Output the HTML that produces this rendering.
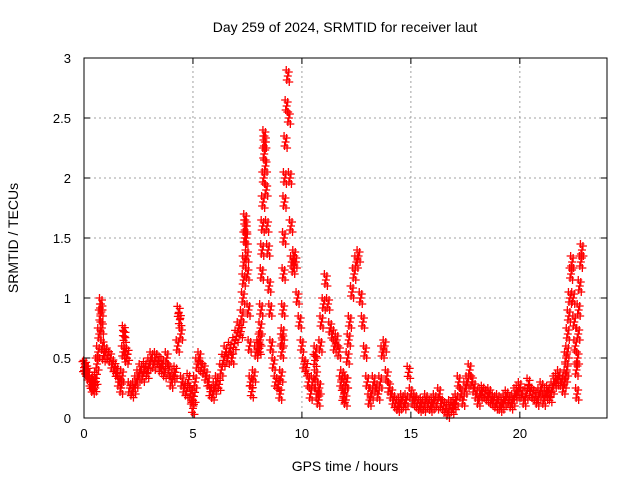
<!DOCTYPE html>
<html><head><meta charset="utf-8"><style>
body{margin:0;background:#fff}
svg{display:block;font-family:"Liberation Sans",sans-serif}
</style></head><body>
<svg id="chart" width="640" height="480">
<text x="345" y="32" text-anchor="middle" font-size="14">Day 259 of 2024, SRMTID for receiver laut</text>
<text x="345" y="471" text-anchor="middle" font-size="14">GPS time / hours</text>
<text transform="translate(18,238) rotate(-90)" text-anchor="middle" font-size="14">SRMTID / TECUs</text>
<g id="grid"></g><g id="axes"></g><g id="marks"></g>
<rect x="84" y="58" width="523" height="360" fill="none" stroke="#000" stroke-width="1"/>
</svg>
<script>
const xTicks=[0,5,10,15,20];
const yTicks=[0,0.5,1,1.5,2,2.5,3];
const yTickLabels=["0","0.5","1","1.5","2","2.5","3"];
const times=[0,0.05,0.1,0.15,0.2,0.3,0.35,0.4,0.45,0.5,0.55,0.6,0.65,0.7,0.75,0.78,0.8,0.82,0.85,0.9,1.0,1.1,1.2,1.3,1.4,1.5,1.6,1.7,1.75,1.8,1.83,1.86,1.9,1.95,2.0,2.1,2.2,2.3,2.4,2.5,2.6,2.7,2.8,2.9,3.0,3.1,3.2,3.3,3.4,3.5,3.6,3.7,3.8,3.9,4.0,4.1,4.2,4.3,4.35,4.4,4.45,4.5,4.6,4.7,4.8,4.9,4.95,5.0,5.05,5.1,5.2,5.3,5.4,5.5,5.6,5.7,5.8,5.9,6.0,6.1,6.2,6.3,6.4,6.5,6.6,6.7,6.8,6.9,7.0,7.1,7.2,7.25,7.3,7.33,7.35,7.38,7.4,7.42,7.45,7.48,7.5,7.55,7.6,7.65,7.7,7.8,7.9,8.0,8.05,8.08,8.1,8.13,8.16,8.18,8.2,8.22,8.25,8.27,8.28,8.3,8.33,8.36,8.4,8.45,8.5,8.55,8.6,8.7,8.8,8.9,9.0,9.05,9.08,9.1,9.12,9.14,9.16,9.18,9.2,9.22,9.25,9.3,9.35,9.4,9.45,9.5,9.55,9.6,9.65,9.7,9.8,9.9,10.0,10.1,10.2,10.3,10.4,10.5,10.6,10.63,10.65,10.7,10.75,10.8,10.85,10.9,11.0,11.1,11.2,11.3,11.4,11.5,11.6,11.7,11.8,11.85,11.9,11.95,12.0,12.03,12.05,12.1,12.15,12.2,12.3,12.4,12.5,12.6,12.7,12.8,12.9,13.0,13.1,13.2,13.3,13.4,13.5,13.6,13.7,13.8,13.9,14.0,14.1,14.2,14.3,14.4,14.5,14.6,14.7,14.8,14.9,15.0,15.1,15.2,15.3,15.4,15.5,15.6,15.7,15.8,15.9,16.0,16.1,16.2,16.3,16.4,16.5,16.6,16.7,16.8,16.9,17.0,17.1,17.2,17.3,17.4,17.5,17.6,17.7,17.8,17.9,18.0,18.1,18.2,18.3,18.4,18.5,18.6,18.7,18.8,18.9,19.0,19.1,19.2,19.3,19.4,19.5,19.6,19.7,19.8,19.9,20.0,20.1,20.2,20.3,20.4,20.5,20.6,20.7,20.8,20.9,21.0,21.1,21.2,21.3,21.4,21.5,21.6,21.7,21.8,21.9,22.0,22.05,22.1,22.12,22.15,22.18,22.2,22.25,22.3,22.35,22.4,22.45,22.5,22.55,22.6,22.63,22.65,22.68,22.7,22.75,22.8,22.85];
const values=[0.42,0.43,0.4,0.38,0.35,0.3,0.28,0.25,0.3,0.27,0.33,0.45,0.55,0.7,0.85,0.95,0.9,0.75,0.6,0.52,0.55,0.52,0.5,0.45,0.42,0.38,0.3,0.25,0.35,0.55,0.72,0.68,0.55,0.5,0.53,0.25,0.22,0.25,0.3,0.35,0.4,0.35,0.42,0.38,0.45,0.5,0.45,0.5,0.48,0.42,0.45,0.38,0.5,0.4,0.3,0.35,0.38,0.6,0.88,0.82,0.7,0.3,0.25,0.22,0.32,0.2,0.15,0.08,0.18,0.3,0.45,0.5,0.42,0.4,0.35,0.3,0.22,0.2,0.25,0.3,0.28,0.4,0.48,0.55,0.5,0.58,0.5,0.62,0.68,0.75,0.72,0.85,1.0,1.15,1.3,1.5,1.65,1.6,1.5,1.35,1.2,0.9,0.6,0.3,0.22,0.35,0.55,0.6,0.58,0.65,0.75,0.9,1.2,1.4,1.6,1.8,2.0,2.2,2.35,2.3,2.1,1.9,1.6,1.4,1.1,0.9,0.6,0.45,0.3,0.28,0.2,0.35,0.55,0.65,0.7,0.9,1.2,1.5,1.8,2.0,2.3,2.6,2.85,2.5,2.0,1.6,1.3,1.25,1.35,1.3,1.0,0.8,0.6,0.45,0.42,0.3,0.2,0.3,0.48,0.55,0.35,0.2,0.15,0.25,0.6,0.8,0.95,1.15,0.95,0.75,0.7,0.6,0.65,0.55,0.3,0.35,0.18,0.2,0.15,0.3,0.3,0.5,0.65,0.8,1.05,1.2,1.3,1.35,1.0,0.8,0.55,0.3,0.15,0.2,0.3,0.25,0.2,0.3,0.55,0.6,0.35,0.25,0.2,0.15,0.12,0.1,0.12,0.15,0.12,0.15,0.38,0.2,0.15,0.15,0.12,0.1,0.12,0.1,0.15,0.12,0.1,0.12,0.15,0.12,0.2,0.12,0.1,0.08,0.05,0.1,0.08,0.12,0.15,0.3,0.2,0.15,0.25,0.3,0.4,0.3,0.25,0.2,0.15,0.2,0.22,0.2,0.18,0.2,0.15,0.15,0.12,0.15,0.1,0.12,0.15,0.18,0.15,0.12,0.15,0.2,0.22,0.25,0.2,0.15,0.2,0.28,0.22,0.2,0.18,0.15,0.2,0.25,0.15,0.2,0.22,0.18,0.25,0.3,0.32,0.35,0.3,0.25,0.3,0.35,0.5,0.4,0.55,0.7,0.85,1.0,1.2,1.3,1.0,0.8,0.6,0.4,0.2,0.5,0.7,0.9,1.1,1.3,1.4,1.5,1.55,1.35];
const svg=document.getElementById('chart');
const NS='http://www.w3.org/2000/svg';
const X0=84,X1=607,Y0=418,Y1=58,XMAX=24,YMAX=3;
function xs(v){return X0+(X1-X0)*v/XMAX;}
function ys(v){return Y0-(Y0-Y1)*v/YMAX;}
function mk(tag,attrs,parent){const e=document.createElementNS(NS,tag);for(const k in attrs)e.setAttribute(k,attrs[k]);parent.appendChild(e);return e;}
const grid=document.getElementById('grid'),axes=document.getElementById('axes'),marks=document.getElementById('marks');
xTicks.forEach(t=>{
  const x=xs(t);
  if(t>0){const g=mk('line',{x1:x,x2:x,y1:Y0,y2:Y1,stroke:'#a0a0a0','stroke-dasharray':'2,3'},grid);
  
  }
  mk('line',{x1:x,x2:x,y1:Y0,y2:Y0-6,stroke:'#000'},axes);
  mk('line',{x1:x,x2:x,y1:Y1,y2:Y1+6,stroke:'#000'},axes);
  const l=mk('text',{x:x,y:Y0+20,'text-anchor':'middle','font-size':'13'},axes);
  l.textContent=t;
  
  
});
yTicks.forEach((t,i)=>{
  const y=ys(t);
  if(t>0&&t<YMAX){const g=mk('line',{x1:X0,x2:X1,y1:y,y2:y,stroke:'#a0a0a0','stroke-dasharray':'2,3'},grid);
  
  }
  mk('line',{x1:X0,x2:X0+6,y1:y,y2:y,stroke:'#000'},axes);
  mk('line',{x1:X1,x2:X1-6,y1:y,y2:y,stroke:'#000'},axes);
  const l=mk('text',{x:X0-13,y:y+5,'text-anchor':'end','font-size':'13'},axes);
  l.textContent=yTickLabels[i];
  
  
});
const cluster=[[0,0],[1,-4],[-1,4],[1.5,6],[-1.5,-6]];
times.forEach((t,i)=>{
  const x=xs(t),y=ys(values[i]);
  let d='';
  cluster.forEach(([dx,dy])=>{const cx=x+dx,cy=Math.min(Y0,y+dy);d+=`M${cx-4},${cy}H${cx+4}M${cx},${cy-4}V${cy+4}`;});
  const p=mk('path',{d:d,stroke:'#f00','stroke-width':'1.3',fill:'none'},marks);
  
  
});
</script>
</body></html>
